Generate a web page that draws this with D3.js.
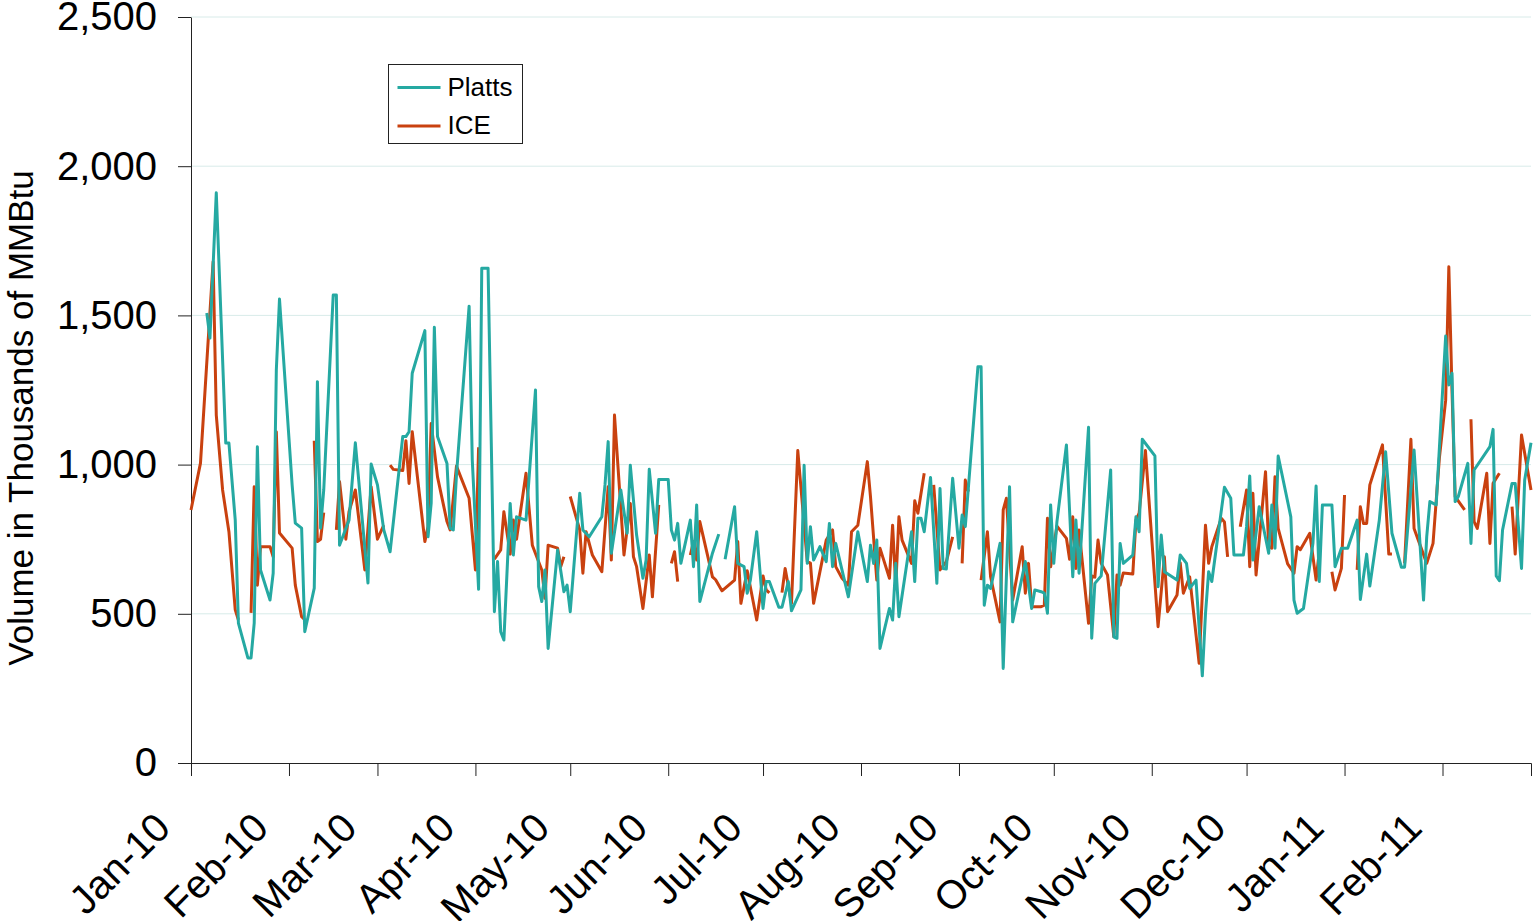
<!DOCTYPE html>
<html>
<head>
<meta charset="utf-8">
<script src="https://cdnjs.cloudflare.com/ajax/libs/d3/7.8.5/d3.min.js"></script>
<style>
    body { margin: 0; background: #fff; }
    svg { display: block; font-family: "Liberation Sans", Arial, sans-serif; }
</style>
</head>
<body>
<svg id="chart" width="1533" height="921"></svg>
<script>
// daily volumes, [day offset from 1 Jan 2010, thousands of MMBtu], null = no trade that day
var platts = [
    [5,1508],[6,1424],[8,1911],[11,1072],[12,1072],[14,814],[15,469],[18,352],[19,352],[20,469],
    [21,1060],[22,647],[25,546],[26,636],[27,1317],[28,1555],[32,932],[33,804],[35,787],[36,440],
    [39,586],[40,1278],[41,787],[42,915],[45,1568],[46,1568],[47,730],[50,814],[52,1073],[56,603],
    [57,1002],[59,932],[61,781],[63,708],[67,1094],[68,1094],[69,1110],[70,1306],[74,1449],[75,758],
    [76,871],[77,1460],[78,1094],[81,1004],[82,787],[83,781],[84,965],[88,1531],[89,1015],[91,582],
    [92,1658],[94,1658],[96,507],[97,675],[98,440],[99,412],[101,870],[102,697],[103,825],[106,814],
    [109,1250],[110,591],[111,541],[112,647],[113,384],[116,714],[118,574],[119,596],[120,507],[123,904],
    [124,781],[126,758],[130,825],[131,932],[132,1077],[133,703],[136,915],[138,770],[139,998],[141,764],
    [143,619],[144,680],[145,984],[147,770],[148,950],[151,950],[152,781],[153,747],[154,803],[155,669],
    [158,814],[159,658],[160,865],[161,541],[165,703],[167,767],[168,null],[169,683],[172,859],[173,669],
    [175,658],[176,569],[177,613],[179,775],[181,518],[182,608],[183,608],[186,522],[187,522],[189,608],
    [190,510],[193,580],[194,998],[195,669],[196,792],[197,680],[199,725],[201,675],[202,803],[203,658],
    [204,736],[208,557],[211,775],[214,608],[215,730],[216,669],[217,747],[218,384],[221,518],[222,479],
    [223,669],[224,490],[228,775],[229,608],[230,820],[231,820],[232,775],[234,957],[236,602],[237,920],
    [238,652],[239,650],[241,954],[243,720],[244,831],[245,792],[249,1328],[250,1328],[251,529],[252,596],
    [253,585],[256,736],[257,317],[259,926],[260,473],[264,675],[266,518],[267,580],[269,574],[270,569],
    [271,502],[272,865],[273,669],[274,809],[277,1066],[279,624],[280,814],[281,636],[284,1125],[285,418],
    [286,602],[288,627],[291,982],[292,423],[293,418],[294,736],[295,669],[298,697],[299,825],[300,775],
    [301,1085],[305,1029],[306,591],[307,764],[308,641],[312,613],[313,697],[315,669],[316,585],[318,613],
    [320,292],[321,500],[322,641],[323,608],[327,924],[329,887],[330,697],[333,697],[334,792],[335,962],
    [336,680],[338,859],[341,703],[342,865],[343,720],[344,1029],[348,825],[349,546],[350,502],[352,518],
    [355,736],[356,928],[357,608],[358,865],[361,865],[362,658],[364,720],[366,720],[369,814],[370,548],
    [372,700],[373,593],[376,814],[378,1043],[380,770],[383,656],[384,656],[387,1049],[390,546],[391,758],
    [392,876],[394,865],[397,1431],[398,1267],[399,1306],[400,876],[401,893],[404,1004],[405,736],[406,982],
    [411,1060],[412,1118],[413,627],[414,611],[415,781],[418,937],[419,937],[421,652],[422,948],[424,1073]
];

var ice = [
    [0,848],[3,1005],[7,1680],[8,1166],[10,915],[12,775],[14,513],[15,479],[16,null],[19,503],
    [20,926],[21,596],[22,725],[25,725],[26,691],[27,1110],[28,771],[32,720],[33,596],[35,490],
    [36,480],[37,null],[39,1080],[40,742],[41,750],[42,839],[43,null],[46,781],[47,943],[49,750],
    [50,842],[52,915],[55,647],[57,926],[59,750],[61,797],[62,null],[63,998],[64,984],[67,980],
    [68,1080],[69,937],[70,1110],[74,742],[75,792],[76,1138],[78,959],[81,809],[82,781],[84,995],
    [88,887],[90,647],[91,1058],[92,null],[96,683],[98,714],[99,842],[101,700],[102,814],[103,750],
    [106,971],[108,730],[111,647],[112,552],[113,730],[116,720],[117,658],[118,691],[119,null],[120,893],
    [123,781],[124,636],[125,775],[127,697],[130,641],[132,926],[133,680],[134,1166],[137,697],[139,870],
    [140,691],[141,658],[143,518],[145,697],[146,557],[148,865],[149,null],[152,669],[153,708],[154,608],
    [155,null],[158,697],[159,742],[160,680],[161,809],[165,624],[166,614],[168,577],[172,613],[173,742],
    [174,535],[176,644],[179,479],[181,627],[182,580],[183,570],[184,null],[187,571],[188,652],[190,535],
    [192,1047],[195,675],[196,670],[197,535],[201,747],[203,781],[204,658],[206,619],[208,596],[209,775],
    [211,797],[214,1010],[215,893],[217,613],[218,720],[221,619],[222,797],[223,591],[224,825],[225,747],
    [228,669],[229,879],[230,837],[232,971],[233,null],[235,932],[237,647],[239,675],[241,758],[242,null],
    [244,669],[245,948],[246,909],[247,null],[250,613],[252,775],[253,624],[256,473],[257,848],[258,887],
    [260,546],[263,725],[264,569],[265,669],[266,524],[269,524],[270,529],[271,820],[272,658],[274,794],
    [277,753],[278,683],[279,825],[280,652],[281,781],[284,468],[285,627],[286,623],[287,747],[288,669],
    [290,630],[292,423],[293,630],[294,596],[295,637],[298,633],[299,814],[300,837],[302,1047],[306,457],
    [308,691],[309,507],[312,563],[313,671],[314,569],[316,624],[319,334],[321,797],[322,669],[323,725],
    [326,820],[327,808],[328,691],[330,null],[332,792],[334,915],[335,658],[336,904],[337,630],[340,976],
    [341,725],[342,720],[343,959],[344,786],[347,667],[349,636],[350,725],[351,715],[354,770],[356,613],
    [357,708],[358,null],[361,641],[362,580],[364,652],[365,898],[366,null],[369,647],[370,859],[371,803],
    [372,803],[373,932],[377,1066],[379,700],[380,700],[381,null],[384,669],[386,1085],[387,786],[391,669],
    [393,736],[395,1021],[397,1216],[398,1663],[399,1250],[400,893],[403,848],[404,null],[405,1152],[406,809],
    [407,786],[410,971],[411,736],[412,937],[414,971],[415,null],[418,859],[419,700],[421,1099],[424,915]
];

var monthLabels = ["Jan-10","Feb-10","Mar-10","Apr-10","May-10","Jun-10","Jul-10",
                   "Aug-10","Sep-10","Oct-10","Nov-10","Dec-10","Jan-11","Feb-11"];
var yTicks = [0, 500, 1000, 1500, 2000, 2500];

var seriesNames = ["Platts", "ICE"];
var seriesColors = ["#25a9a2", "#c9410f"];


class VolumeChart
{
    constructor(svgId)
    {
        this.svg = d3.select(svgId);
        this.margin = {left: 191, right: 1531, top: 17, bottom: 763};

        this.start = new Date(2010, 0, 1);
        this.end = new Date(2011, 2, 1);

        this.x = d3.scaleTime().domain([this.start, this.end]).range([this.margin.left, this.margin.right]);
        this.y = d3.scaleLinear().domain([0, 2500]).range([this.margin.bottom, this.margin.top]);
    }

    dayToDate(d)
    {
        return new Date(2010, 0, 1 + d);
    }

    draw()
    {
        var self = this;

        // gridlines first so the lines sit on top
        this.svg.append("g").selectAll("line")
            .data(yTicks.filter(t => t > 0))
            .enter().append("line")
            .attr("x1", this.margin.left).attr("x2", this.margin.right)
            .attr("y1", d => this.y(d)).attr("y2", d => this.y(d))
            .style("stroke", "#d8ebe9").style("stroke-width", 1);

        this.drawAxes();

        var line = d3.line()
            .defined(d => d[1] !== null)
            .x(d => self.x(self.dayToDate(d[0])))
            .y(d => self.y(d[1]));

        // ICE first, Platts drawn over it
        [ice, platts].forEach(function (s, i) {
            self.svg.append("path")
                .datum(s)
                .attr("d", line)
                .attr("fill", "none")
                .attr("stroke", seriesColors[1 - i])
                .attr("stroke-width", 3)
                .attr("stroke-linejoin", "round");
        });

        this.drawLegend();
    }

    drawAxes()
    {
        var monthDates = monthLabels.map((m, i) => new Date(2010, i, 1));

        var yAxis = d3.axisLeft(this.y)
            .tickValues(yTicks)
            .tickSize(13)
            .tickSizeOuter(0)
            .tickPadding(21)
            .tickFormat(d3.format(","));

        var gy = this.svg.append("g")
            .attr("transform", "translate(" + this.margin.left + ",0)")
            .call(yAxis);
        gy.selectAll("text").attr("font-size", 40).attr("fill", "#000");

        var xAxis = d3.axisBottom(this.x)
            .tickValues(monthDates)
            .tickSize(13)
            .tickSizeOuter(13)
            .tickFormat((d, i) => monthLabels[i]);

        var gx = this.svg.append("g")
            .attr("transform", "translate(0," + this.margin.bottom + ")")
            .call(xAxis);

        // labels sit a little left of their tick, like the excel original
        gx.selectAll("text")
            .attr("font-size", 40)
            .attr("fill", "#000")
            .attr("text-anchor", "end")
            .attr("dy", 0)
            .attr("y", 0)
            .attr("transform", "translate(-19,67) rotate(-45)");

        this.svg.selectAll(".domain, .tick line").style("stroke", "#222");

        this.svg.append("text")
            .attr("transform", "translate(33,418) rotate(-90)")
            .attr("text-anchor", "middle")
            .attr("font-size", 35)
            .text("Volume in Thousands of MMBtu");
    }

    drawLegend()
    {
        var lg = this.svg.append("g").attr("transform", "translate(388.5,64.5)");

        lg.append("rect")
            .attr("width", 134).attr("height", 79)
            .attr("fill", "#fff").attr("stroke", "#222").attr("stroke-width", 1);

        seriesNames.forEach(function (name, i) {
            var yy = 23 + i * 38.5;
            lg.append("line")
                .attr("x1", 9).attr("x2", 52)
                .attr("y1", yy).attr("y2", yy)
                .attr("stroke", seriesColors[i]).attr("stroke-width", 3);
            lg.append("text")
                .attr("x", 59).attr("y", yy + 8)
                .attr("font-size", 26)
                .text(name);
        });
    }
}

new VolumeChart("#chart").draw();
</script>
</body>
</html>
